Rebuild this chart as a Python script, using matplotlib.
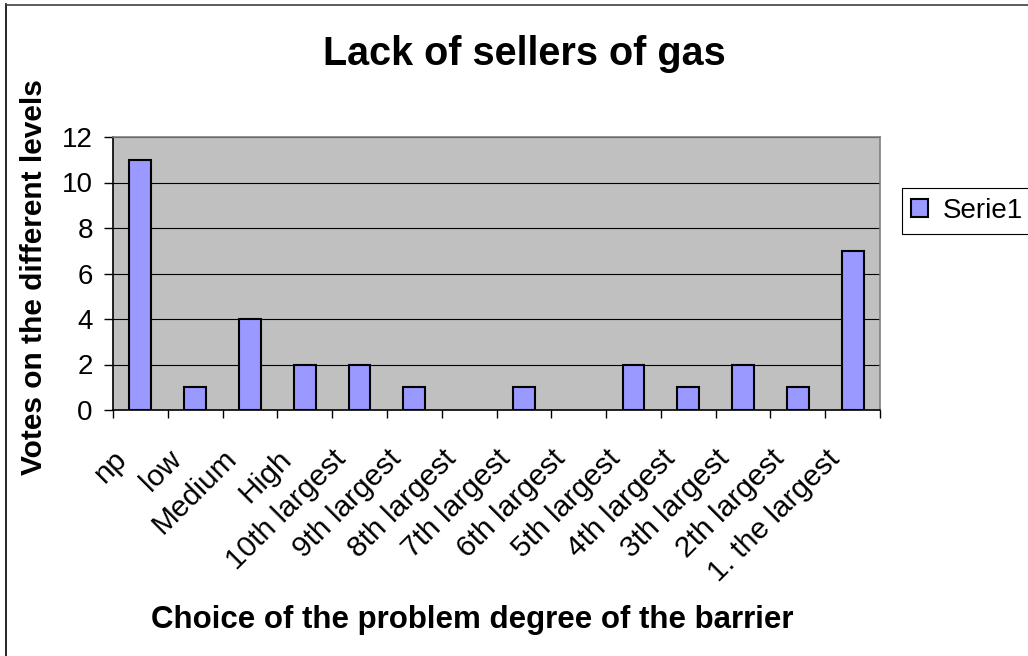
import matplotlib
matplotlib.use("Agg")
import matplotlib.pyplot as plt
from matplotlib.lines import Line2D
from matplotlib.patches import Rectangle
import matplotlib.transforms as mtransforms
import numpy as np

categories = ["np", "low", "Medium", "High", "10th largest", "9th largest",
              "8th largest", "7th largest", "6th largest", "5th largest",
              "4th largest", "3th largest", "2th largest", "1. the largest"]
votes = [11, 1, 4, 2, 2, 1, 0, 1, 0, 2, 1, 2, 1, 7]
series_name = "Serie1"
title = "Lack of sellers of gas"
xlabel = "Choice of the problem degree of the barrier"
ylabel = "Votes on the different levels"
yticks = [0, 2, 4, 6, 8, 10, 12]

plt.rcParams['font.family'] = ['Liberation Sans', 'DejaVu Sans']

W, H = 1028, 656
fig = plt.figure(figsize=(W / 100, H / 100), dpi=100)
fig.patch.set_facecolor('white')

def fx(px):
    return px / W

def fy(py):
    return 1 - py / H

ax = fig.add_axes([fx(113), fy(410), fx(880) - fx(113), fy(137) - fy(410)])
ax.set_facecolor('#C0C0C0')

x = np.arange(len(categories))
bars = ax.bar(x, votes, width=0.4, color='#9999FF', edgecolor='black',
              linewidth=[1.5 if v > 0 else 0 for v in votes],
              label=series_name, zorder=3)

ax.set_xlim(-0.5, len(categories) - 0.5)
ax.set_ylim(0, 12)
ax.set_yticks(yticks)
ax.set_yticklabels([str(v) for v in yticks], fontsize=20)
ax.yaxis.grid(True, color='black', linewidth=0.8, zorder=1)
ax.set_axisbelow(True)

ax.set_xticks(x)
ax.set_xticklabels(categories, fontsize=21.5)
ax.set_xticks(np.arange(-0.5, len(categories), 1.0), minor=True)
ax.tick_params(axis='x', which='major', length=0, pad=36)
ax.tick_params(axis='x', which='minor', length=6, width=1, direction='out', color='black')
ax.tick_params(axis='y', length=6.5, width=1, direction='out', pad=8, color='black')
shift = mtransforms.ScaledTranslation(-12 / 100, 0, fig.dpi_scale_trans)
for lbl in ax.get_xticklabels():
    lbl.set_rotation(45)
    lbl.set_ha('right')
    lbl.set_va('baseline')
    lbl.set_rotation_mode('anchor')
    lbl.set_transform(lbl.get_transform() + shift)

for side in ['left', 'bottom']:
    ax.spines[side].set_color('black')
    ax.spines[side].set_linewidth(1.2)
for side in ['top', 'right']:
    ax.spines[side].set_color('#808080')
    ax.spines[side].set_linewidth(1.2)

fig.text(fx(524.5), fy(65), title, fontsize=28.5, fontweight='bold',
         ha='center', va='baseline')
fig.text(fx(472), fy(628), xlabel, fontsize=22.5, fontweight='bold',
         ha='center', va='baseline')
fig.text(fx(34), fy(277), ylabel, fontsize=21.5, fontweight='bold',
         ha='center', va='center', rotation=90)

box = Rectangle((fx(902), fy(234)), fx(1040) - fx(902), fy(188) - fy(234),
                transform=fig.transFigure, facecolor='white',
                edgecolor='black', linewidth=0.8, clip_on=False, zorder=1)
fig.add_artist(box)
leg = fig.legend(handles=[bars], labels=[series_name], loc='center left',
                 bbox_to_anchor=(fx(911), fy(211)),
                 bbox_transform=fig.transFigure, fontsize=20, frameon=False,
                 handlelength=0.6, handleheight=0.6, handletextpad=0.55,
                 borderpad=0.0, borderaxespad=0)
leg.set_zorder(5)

fig.add_artist(Line2D([fx(6), fx(6)], [0, fy(4)], transform=fig.transFigure,
                      color='black', linewidth=1.2))
fig.add_artist(Line2D([fx(6), 1], [fy(4.5), fy(4.5)], transform=fig.transFigure,
                      color='#404040', linewidth=1.2))

fig.savefig('out.png', dpi=100)
